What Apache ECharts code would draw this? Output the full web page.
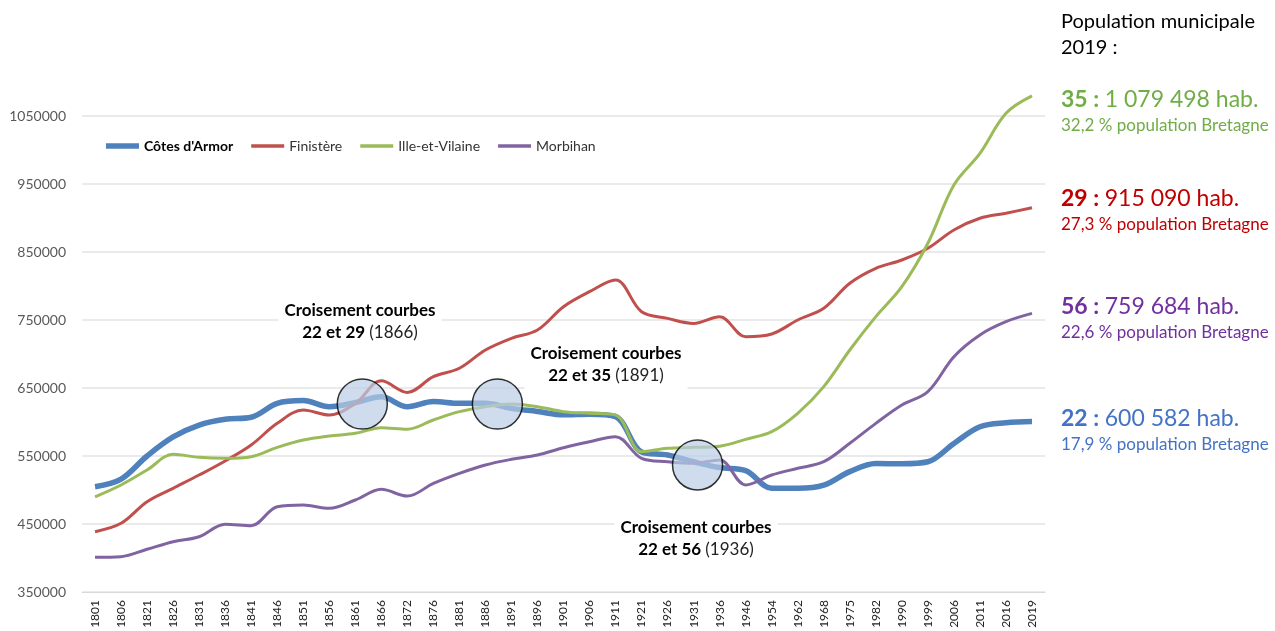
<!DOCTYPE html>
<html>
<head>
<meta charset="utf-8">
<script src="https://cdn.jsdelivr.net/npm/echarts@6/dist/echarts.min.js"></script>
<style>
  html, body { margin: 0; padding: 0; background: #fff; }
  #chart { width: 1275px; height: 631px; }
</style>
</head>
<body>
<div id="chart"></div>
<script>
var years = ['1801', '1806', '1821', '1826', '1831', '1836', '1841', '1846', '1851', '1856', '1861', '1866', '1872', '1876', '1881', '1886', '1891', '1896', '1901', '1906', '1911', '1921', '1926', '1931', '1936', '1946', '1954', '1962', '1968', '1975', '1982', '1990', '1999', '2006', '2011', '2016', '2019']

var cotesArmor = [504900, 516000, 550000, 578000, 595500, 604000, 607000, 627500, 631500, 622500, 628500, 637000, 622500, 630000, 627500, 627500, 620000, 615500, 610500, 611500, 608000, 556000, 551500, 541500, 533000, 528500, 502500, 502500, 507000, 527000, 539000, 538500, 541500, 568500, 593000, 599000, 600582]
var finistere = [438700, 451000, 482800, 502500, 522000, 542700, 566200, 598000, 617600, 610300, 627000, 660700, 643500, 666600, 679000, 705900, 723100, 735300, 769600, 791700, 808800, 762200, 752400, 745000, 754900, 725500, 729400, 750000, 767200, 804000, 826000, 838200, 855500, 882400, 899600, 907000, 915090]
var illeEtVilaine = [490000, 507400, 529400, 552500, 548000, 546600, 549000, 562700, 573500, 579400, 583400, 591700, 589300, 603000, 615200, 622500, 626500, 622500, 615200, 612800, 610300, 556300, 561300, 562700, 564500, 574500, 585800, 612800, 652000, 705900, 754900, 799100, 862900, 948500, 995100, 1053900, 1079498]
var morbihan = [401000, 402000, 412800, 424000, 431300, 449500, 447500, 475400, 477900, 473000, 485300, 501000, 491000, 509700, 524500, 536800, 545100, 551500, 562200, 571000, 578400, 546600, 541600, 539200, 544100, 507400, 522000, 531900, 541600, 568700, 598000, 625000, 644600, 696000, 728000, 747500, 759684]

// crossing circles: position along the category index, value
var crossIndex = [10.27, 15.46, 23.15]
var crossValue = [626500, 626500, 536800]
var crossText = [['22 et 29', '(1866)'], ['22 et 35', '(1891)'], ['22 et 56', '(1936)']]

var yTicks = [350000, 1050000, 100000]

var FONT = 'Lato, "Open Sans", sans-serif'

var chart = echarts.init(document.getElementById('chart'))

function annotation(x, y, i) {
  return {
    type: 'text',
    x: x,
    y: y,
    z: 100,
    style: {
      text: '{b|Croisement courbes}\n{b|' + crossText[i][0] + ' }{n|' + crossText[i][1] + '}',
      align: 'center',
      verticalAlign: 'middle',
      backgroundColor: '#fff',
      padding: [2, 6],
      rich: {
        b: { fontFamily: FONT, fontSize: 17, fontWeight: 'bold', fill: '#000', lineHeight: 22 },
        n: { fontFamily: FONT, fontSize: 17, fill: '#222', lineHeight: 22 }
      }
    }
  }
}

function figure(y, code, value, share, color) {
  return [{
    type: 'text',
    x: 1061,
    y: y,
    style: {
      text: '{b|' + code + ' : }{n|' + value + '}',
      verticalAlign: 'middle',
      rich: {
        b: { fontFamily: FONT, fontSize: 23, fontWeight: 'bold', fill: color },
        n: { fontFamily: FONT, fontSize: 23, fill: color }
      }
    }
  }, {
    type: 'text',
    x: 1061,
    y: y + 26,
    style: {
      text: share,
      verticalAlign: 'middle',
      fontFamily: FONT,
      fontSize: 17,
      fill: color
    }
  }]
}

var graphics = [
  annotation(360, 322, 0),
  annotation(606, 365, 1),
  annotation(696, 539, 2),
  {
    type: 'text',
    x: 1061,
    y: 9,
    style: {
      text: 'Population municipale\n2019 :',
      fontFamily: FONT,
      fontSize: 20,
      lineHeight: 26,
      fill: '#000'
    }
  }
]
graphics = graphics
  .concat(figure(100, '35', '1 079 498 hab.', '32,2 % population Bretagne', '#70AD47'))
  .concat(figure(199, '29', '915 090 hab.', '27,3 % population Bretagne', '#C00000'))
  .concat(figure(307, '56', '759 684 hab.', '22,6 % population Bretagne', '#7030A0'))
  .concat(figure(419, '22', '600 582 hab.', '17,9 % population Bretagne', '#4472C4'))

function lineSeries(name, data, color, width) {
  return {
    name: name,
    type: 'line',
    data: data,
    smooth: 0.35,
    symbol: 'none',
    clip: false,
    lineStyle: { color: color, width: width },
    itemStyle: { color: color }
  }
}

var thickIcon = 'path://M0,0H30V5H0Z'
var thinIcon = 'path://M0,0H30V3H0Z'

chart.setOption({
  animation: false,
  backgroundColor: '#fff',
  textStyle: { fontFamily: FONT },
  grid: {
    left: 82,
    right: 230,
    top: 116,
    bottom: 39
  },
  legend: {
    left: 101,
    top: 134,
    itemWidth: 33,
    itemHeight: 14,
    itemGap: 18,
    textStyle: { fontSize: 14, color: '#333', fontFamily: FONT },
    data: [
      { name: 'Côtes d\'Armor', icon: thickIcon, textStyle: { fontWeight: 'bold', color: '#000' } },
      { name: 'Finistère', icon: thinIcon },
      { name: 'Ille-et-Vilaine', icon: thinIcon },
      { name: 'Morbihan', icon: thinIcon }
    ]
  },
  xAxis: [{
    type: 'category',
    data: years,
    boundaryGap: true,
    axisLine: { lineStyle: { color: '#d9d9d9' } },
    axisTick: { show: false },
    axisLabel: {
      interval: 0,
      rotate: 90,
      margin: 8,
      fontSize: 12,
      color: '#222'
    }
  }, {
    type: 'value',
    min: -0.5,
    max: years.length - 0.5,
    show: false
  }],
  yAxis: {
    type: 'value',
    min: yTicks[0],
    max: yTicks[1],
    interval: yTicks[2],
    axisLine: { show: false },
    axisTick: { show: false },
    axisLabel: {
      margin: 16,
      fontSize: 14,
      color: '#595959',
      formatter: function(v) { return String(v) }
    },
    splitLine: { lineStyle: { color: '#e3e3e3', width: 1.5 } }
  },
  series: [
    lineSeries('Côtes d\'Armor', cotesArmor, '#4F81BD', 5.5),
    lineSeries('Finistère', finistere, '#C0504D', 3),
    lineSeries('Ille-et-Vilaine', illeEtVilaine, '#9BBB59', 3),
    lineSeries('Morbihan', morbihan, '#8064A2', 3),
    {
      type: 'scatter',
      xAxisIndex: 1,
      symbolSize: 50,
      z: 5,
      silent: true,
      itemStyle: {
        color: 'rgba(185, 205, 229, 0.88)',
        borderColor: '#000',
        borderWidth: 1.5
      },
      data: crossIndex.map(function(x, i) { return [x, crossValue[i]] })
    }
  ],
  graphic: graphics
})
</script>
</body>
</html>
